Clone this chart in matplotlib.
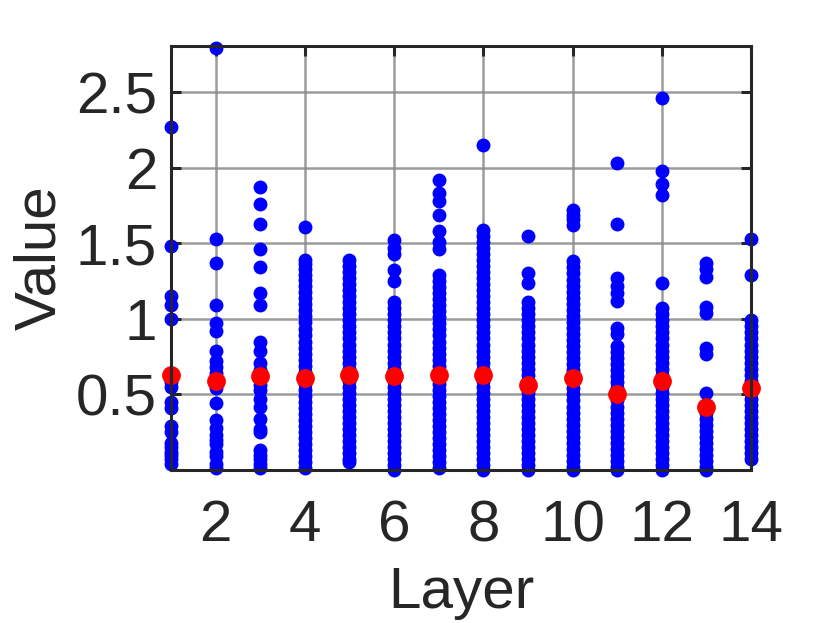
import matplotlib
matplotlib.use("Agg")
import matplotlib.pyplot as plt

plt.rcParams['font.family'] = ['Liberation Sans', 'DejaVu Sans']

layers = list(range(1, 15))

layer_values = [
    [2.27, 1.48, 1.15, 1.09, 1.00, 0.58, 0.55, 0.45, 0.41, 0.29, 0.25, 0.18, 0.15, 0.12, 0.10, 0.07, 0.04],
    [2.79, 1.53, 1.37, 1.09, 0.97, 0.92, 0.79, 0.72, 0.68, 0.64, 0.60, 0.54, 0.44, 0.33, 0.28, 0.23,
     0.20, 0.17, 0.12, 0.09, 0.04, 0.01],
    [1.87, 1.76, 1.63, 1.46, 1.34, 1.17, 1.09, 0.85, 0.79, 0.71, 0.66, 0.60, 0.56, 0.53, 0.47, 0.42,
     0.34, 0.27, 0.25, 0.13, 0.10, 0.07, 0.04, 0.01],
    [1.61, 1.39, 1.36, 1.33, 1.29, 1.26, 1.22, 1.18, 1.14, 1.10, 1.06, 1.02, 0.98, 0.93, 0.89, 0.85,
     0.81, 0.77, 0.73, 0.69, 0.65, 0.61, 0.57, 0.53, 0.49, 0.45, 0.41, 0.37, 0.33, 0.29, 0.25, 0.21,
     0.17, 0.13, 0.09, 0.05, 0.01],
    [1.39, 1.35, 1.31, 1.27, 1.23, 1.19, 1.15, 1.11, 1.07, 1.03, 0.99, 0.95, 0.91, 0.87, 0.83, 0.79,
     0.75, 0.71, 0.67, 0.63, 0.59, 0.55, 0.51, 0.47, 0.43, 0.39, 0.35, 0.31, 0.27, 0.23, 0.19, 0.15,
     0.11, 0.07, 0.05],
    [1.52, 1.47, 1.43, 1.32, 1.25, 1.11, 1.07, 1.03, 0.99, 0.95, 0.91, 0.87, 0.83, 0.79, 0.75, 0.71,
     0.67, 0.63, 0.59, 0.55, 0.51, 0.47, 0.43, 0.39, 0.35, 0.31, 0.27, 0.23, 0.19, 0.15, 0.11, 0.07,
     0.03, 0.00],
    [1.92, 1.83, 1.78, 1.69, 1.58, 1.51, 1.46, 1.29, 1.25, 1.21, 1.17, 1.13, 1.09, 1.05, 1.01, 0.97,
     0.93, 0.89, 0.85, 0.81, 0.77, 0.73, 0.69, 0.65, 0.61, 0.57, 0.53, 0.49, 0.45, 0.41, 0.37, 0.33,
     0.29, 0.25, 0.21, 0.17, 0.13, 0.09, 0.05, 0.01],
    [2.15, 1.59, 1.55, 1.51, 1.47, 1.43, 1.39, 1.35, 1.31, 1.27, 1.23, 1.19, 1.15, 1.11, 1.07, 1.03,
     0.99, 0.95, 0.91, 0.87, 0.83, 0.79, 0.75, 0.71, 0.67, 0.63, 0.59, 0.55, 0.51, 0.47, 0.43, 0.39,
     0.35, 0.31, 0.27, 0.23, 0.19, 0.15, 0.11, 0.07, 0.03, 0.00],
    [1.55, 1.30, 1.24, 1.11, 1.07, 1.03, 0.99, 0.95, 0.91, 0.87, 0.83, 0.79, 0.75, 0.71, 0.67, 0.63,
     0.59, 0.55, 0.51, 0.47, 0.43, 0.39, 0.35, 0.31, 0.27, 0.23, 0.19, 0.15, 0.11, 0.07, 0.03, 0.00],
    [1.72, 1.69, 1.66, 1.62, 1.38, 1.34, 1.30, 1.26, 1.22, 1.18, 1.14, 1.10, 1.06, 1.02, 0.98, 0.94,
     0.90, 0.86, 0.82, 0.78, 0.74, 0.70, 0.66, 0.62, 0.58, 0.54, 0.50, 0.46, 0.42, 0.38, 0.34, 0.30,
     0.26, 0.22, 0.18, 0.14, 0.10, 0.06, 0.02, 0.00],
    [2.03, 1.63, 1.27, 1.22, 1.17, 1.12, 0.94, 0.90, 0.82, 0.78, 0.74, 0.70, 0.66, 0.62, 0.58, 0.54,
     0.50, 0.46, 0.42, 0.38, 0.34, 0.30, 0.26, 0.22, 0.18, 0.14, 0.10, 0.06, 0.02, 0.00],
    [2.46, 1.98, 1.89, 1.82, 1.24, 1.07, 1.03, 0.99, 0.95, 0.91, 0.87, 0.83, 0.79, 0.75, 0.71, 0.67,
     0.63, 0.59, 0.55, 0.51, 0.47, 0.43, 0.39, 0.35, 0.31, 0.27, 0.23, 0.19, 0.15, 0.11, 0.07, 0.03,
     0.00],
    [1.37, 1.33, 1.28, 1.08, 1.04, 0.81, 0.77, 0.51, 0.38, 0.34, 0.30, 0.26, 0.22, 0.18, 0.14, 0.10,
     0.06, 0.02, 0.00],
    [1.53, 1.29, 0.99, 0.95, 0.91, 0.87, 0.83, 0.79, 0.75, 0.71, 0.67, 0.63, 0.59, 0.55, 0.51, 0.47,
     0.43, 0.39, 0.35, 0.31, 0.27, 0.23, 0.19, 0.15, 0.11, 0.07],
]

layer_means = [0.63, 0.59, 0.62, 0.61, 0.63, 0.62, 0.63, 0.63, 0.56, 0.61, 0.50, 0.59, 0.42, 0.54]

xticks = [2, 4, 6, 8, 10, 12, 14]
yticks = [0.5, 1.0, 1.5, 2.0, 2.5]
ytick_labels = ['0.5', '1', '1.5', '2', '2.5']

text_color = '#262626'

fig = plt.figure(figsize=(8.3, 6.23), dpi=100)
ax = fig.add_axes([171 / 830, (623 - 470) / 623, (751 - 171) / 830, (470 - 46) / 623])

for layer, vals in zip(layers, layer_values):
    ax.plot([layer] * len(vals), vals, linestyle='none', marker='o', markersize=9,
            color='#0000ff', markeredgewidth=1.0, clip_on=False, zorder=3)

ax.plot(layers, layer_means, linestyle='none', marker='o', markersize=12.5,
        color='#ff0000', markeredgewidth=1.0, clip_on=False, zorder=4)

ax.set_xlim(1, 14)
ax.set_ylim(0, 2.805)
ax.set_xticks(xticks)
ax.set_xticklabels([str(t) for t in xticks])
ax.set_yticks(yticks)
ax.set_yticklabels(ytick_labels)

ax.grid(True, color='#8a8a8a', linewidth=1.8, alpha=0.85, zorder=0)
ax.set_axisbelow(True)

for sp in ax.spines.values():
    sp.set_color(text_color)
    sp.set_linewidth(2.2)
    sp.set_zorder(5)

ax.tick_params(direction='in', length=7, width=2.2, color=text_color,
               labelsize=42, labelcolor=text_color, top=True, right=True)
ax.tick_params(axis='x', pad=21)
ax.tick_params(axis='y', pad=10)

ax.set_xlabel('Layer', fontsize=42, color=text_color, labelpad=9)
ax.set_ylabel('Value', fontsize=42, color=text_color, labelpad=6)

fig.savefig('out.png', dpi=100)
